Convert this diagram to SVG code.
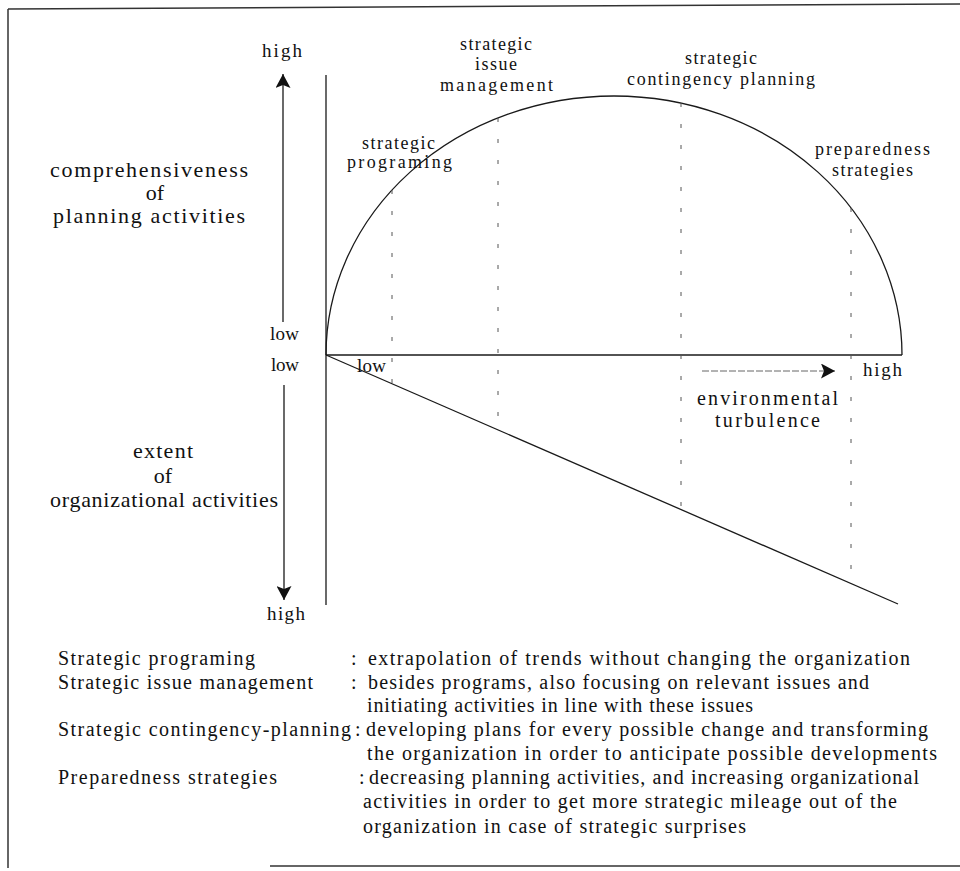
<svg xmlns="http://www.w3.org/2000/svg" width="960" height="871" viewBox="0 0 960 871">
<style>
  text { font-family: "Liberation Serif", "Times New Roman", serif; fill: #111; }
  .lbl { font-size: 18px; }
  .ax { font-size: 22px; }
  .env { font-size: 20px; }
  .hl { font-size: 19px; }
  .leg { font-size: 20px; }
  .line { stroke: #1a1a1a; stroke-width: 1.3; fill: none; }
  .frame { stroke: #333; stroke-width: 1.5; fill: none; }
  .dash { stroke: #555; stroke-width: 1; stroke-dasharray: 4 17; fill: none; }
</style>
<defs>
  <marker id="ah" viewBox="0 0 14 15" refX="14" refY="7.5" markerWidth="14" markerHeight="15" markerUnits="userSpaceOnUse" orient="auto">
    <path d="M0,0 L14,7.5 L0,15 L3,7.5 z" fill="#111"/>
  </marker>
</defs>
<rect width="960" height="871" fill="#fff"/>

<g id="frame">
  <path class="frame" d="M8,9 L960,4"/>
  <path class="frame" d="M8,9 L8,868"/>
  <path class="frame" d="M270,866 L960,866"/>
</g>

<g id="connectors">
  <path class="line" d="M283,322 L283,74" marker-end="url(#ah)"/>
  <path class="line" d="M284,385 L284,600" marker-end="url(#ah)"/>
  <path class="line" d="M326,75 L326,605"/>
  <path class="line" d="M326,355 L902,355" stroke-width="1.6"/>
  <path class="line" d="M326,355 A288,259 0 0 1 902,355"/>
  <path class="line" d="M326,355 L898,604"/>
  <path class="dash" d="M392,190 L392,384"/>
  <path class="dash" d="M498,118 L498,430"/>
  <path class="dash" d="M681,103 L681,509"/>
  <path class="dash" d="M851,208 L851,583"/>
  <path d="M702,371 L835,371" stroke="#666" stroke-width="1" stroke-dasharray="7 2" fill="none" marker-end="url(#ah)"/>
</g>

<g id="axis-labels">
  <text class="hl" x="262" y="57" textLength="40">high</text>
  <text class="hl" x="270" y="340" textLength="29">low</text>
  <text class="hl" x="271" y="371" textLength="28">low</text>
  <text class="hl" x="267" y="620" textLength="38">high</text>
  <text class="hl" x="357" y="372" textLength="29">low</text>
  <text class="hl" x="863" y="376" textLength="39">high</text>
</g>

<g id="comprehensiveness">
  <text class="ax" x="50" y="177" textLength="198">comprehensiveness</text>
  <text class="ax" x="155" y="200" text-anchor="middle">of</text>
  <text class="ax" x="53" y="223" textLength="192">planning activities</text>
</g>

<g id="extent">
  <text class="ax" x="133" y="458" textLength="60">extent</text>
  <text class="ax" x="163" y="483" text-anchor="middle">of</text>
  <text class="ax" x="50" y="507" textLength="228">organizational activities</text>
</g>

<g id="environmental-turbulence">
  <text class="env" x="697" y="405" textLength="141">environmental</text>
  <text class="env" x="715" y="427" textLength="105">turbulence</text>
</g>

<g id="strategic-programing">
  <text class="lbl" x="362" y="149" textLength="73">strategic</text>
  <text class="lbl" x="347" y="168" textLength="105">programing</text>
</g>

<g id="strategic-issue-management">
  <text class="lbl" x="460" y="50" textLength="72">strategic</text>
  <text class="lbl" x="475" y="70" textLength="42">issue</text>
  <text class="lbl" x="440" y="91" textLength="113">management</text>
</g>

<g id="strategic-contingency-planning">
  <text class="lbl" x="685" y="64" textLength="72">strategic</text>
  <text class="lbl" x="627" y="85" textLength="188">contingency planning</text>
</g>

<g id="preparedness-strategies">
  <text class="lbl" x="815" y="155" textLength="115">preparedness</text>
  <text class="lbl" x="832" y="176" textLength="81">strategies</text>
</g>

<g id="legend">
  <text class="leg" x="58" y="665" textLength="197">Strategic programing</text>
  <text class="leg" x="351" y="665">:</text>
  <text class="leg" x="368" y="665" textLength="542">extrapolation of trends without changing the organization</text>

  <text class="leg" x="58" y="689" textLength="255">Strategic issue management</text>
  <text class="leg" x="351" y="689">:</text>
  <text class="leg" x="368" y="689" textLength="501">besides programs, also focusing on relevant issues and</text>
  <text class="leg" x="367" y="712" textLength="386">initiating  activities in line with these issues</text>

  <text class="leg" x="58" y="736" textLength="293">Strategic contingency-planning</text>
  <text class="leg" x="355" y="736">:</text>
  <text class="leg" x="366" y="736" textLength="562">developing plans for every possible change and transforming</text>
  <text class="leg" x="367" y="760" textLength="570">the organization in order to anticipate possible developments</text>

  <text class="leg" x="58" y="784" textLength="219">Preparedness strategies</text>
  <text class="leg" x="359" y="784">:</text>
  <text class="leg" x="369" y="784" textLength="550">decreasing planning activities, and increasing organizational</text>
  <text class="leg" x="363" y="808" textLength="534">activities in order to get more strategic mileage out of the</text>
  <text class="leg" x="363" y="833" textLength="383">organization in case of strategic surprises</text>
</g>
</svg>
